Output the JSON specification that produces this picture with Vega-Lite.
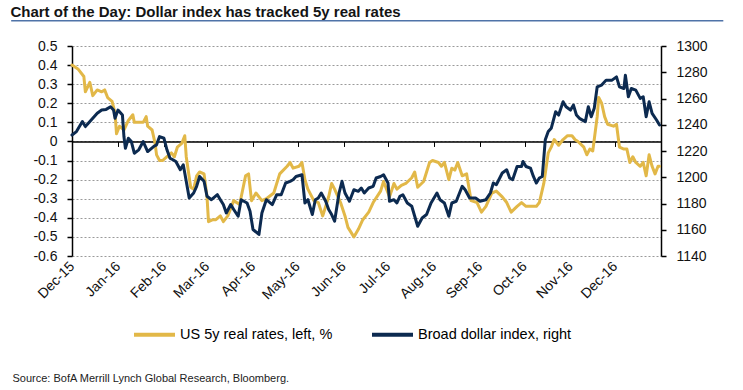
{
  "$schema": "https://vega.github.io/schema/vega-lite/v6.json",
  "width": 589,
  "height": 210,
  "autosize": {"type": "none"},
  "padding": {"left": 72, "top": 46, "right": 82, "bottom": 134},
  "background": "white",
  "config": {"view": {"stroke": null}, "font": "Liberation Sans"},
  "title": {
    "text": "Chart of the Day: Dollar index has tracked 5y real rates",
    "anchor": "start",
    "frame": "bounds",
    "font": "Liberation Sans",
    "fontSize": 15,
    "fontWeight": "bold",
    "color": "#141414",
    "baseline": "alphabetic",
    "offset": 4,
    "dy": 16
  },
  "datasets": {
    "rates": [
      {"date": "2015-12-01", "value": 0.40}, {"date": "2015-12-05", "value": 0.38}, {"date": "2015-12-09", "value": 0.34}, {"date": "2015-12-10", "value": 0.26},
      {"date": "2015-12-13", "value": 0.31}, {"date": "2015-12-15", "value": 0.24}, {"date": "2015-12-18", "value": 0.27}, {"date": "2015-12-21", "value": 0.26},
      {"date": "2015-12-23", "value": 0.27}, {"date": "2015-12-25", "value": 0.23}, {"date": "2015-12-28", "value": 0.21}, {"date": "2015-12-30", "value": 0.15},
      {"date": "2015-12-31", "value": 0.04}, {"date": "2016-01-02", "value": 0.08}, {"date": "2016-01-05", "value": 0.06}, {"date": "2016-01-08", "value": 0.11},
      {"date": "2016-01-11", "value": 0.14}, {"date": "2016-01-12", "value": 0.10}, {"date": "2016-01-16", "value": 0.10}, {"date": "2016-01-18", "value": 0.10},
      {"date": "2016-01-20", "value": 0.13}, {"date": "2016-01-21", "value": 0.08}, {"date": "2016-01-24", "value": 0.06}, {"date": "2016-01-26", "value": -0.01},
      {"date": "2016-01-27", "value": -0.07}, {"date": "2016-01-29", "value": -0.10}, {"date": "2016-01-31", "value": -0.10}, {"date": "2016-02-03", "value": -0.08},
      {"date": "2016-02-06", "value": -0.06}, {"date": "2016-02-08", "value": -0.08}, {"date": "2016-02-10", "value": -0.03}, {"date": "2016-02-13", "value": -0.01},
      {"date": "2016-02-15", "value": 0.03}, {"date": "2016-02-16", "value": -0.08}, {"date": "2016-02-19", "value": -0.24}, {"date": "2016-02-21", "value": -0.25},
      {"date": "2016-02-23", "value": -0.18}, {"date": "2016-02-25", "value": -0.16}, {"date": "2016-02-28", "value": -0.17}, {"date": "2016-03-01", "value": -0.29},
      {"date": "2016-03-02", "value": -0.42}, {"date": "2016-03-05", "value": -0.41}, {"date": "2016-03-07", "value": -0.41}, {"date": "2016-03-10", "value": -0.39},
      {"date": "2016-03-12", "value": -0.42}, {"date": "2016-03-15", "value": -0.39}, {"date": "2016-03-19", "value": -0.31}, {"date": "2016-03-23", "value": -0.33},
      {"date": "2016-03-27", "value": -0.18}, {"date": "2016-03-29", "value": -0.17}, {"date": "2016-03-31", "value": -0.31}, {"date": "2016-04-03", "value": -0.27},
      {"date": "2016-04-07", "value": -0.31}, {"date": "2016-04-10", "value": -0.30}, {"date": "2016-04-15", "value": -0.27}, {"date": "2016-04-19", "value": -0.17},
      {"date": "2016-04-24", "value": -0.13}, {"date": "2016-04-26", "value": -0.11}, {"date": "2016-04-28", "value": -0.14}, {"date": "2016-05-02", "value": -0.13},
      {"date": "2016-05-04", "value": -0.11}, {"date": "2016-05-06", "value": -0.20}, {"date": "2016-05-08", "value": -0.25}, {"date": "2016-05-12", "value": -0.31},
      {"date": "2016-05-15", "value": -0.32}, {"date": "2016-05-18", "value": -0.39}, {"date": "2016-05-22", "value": -0.29}, {"date": "2016-05-24", "value": -0.22},
      {"date": "2016-05-26", "value": -0.25}, {"date": "2016-05-30", "value": -0.32}, {"date": "2016-06-02", "value": -0.39}, {"date": "2016-06-04", "value": -0.45},
      {"date": "2016-06-08", "value": -0.50}, {"date": "2016-06-11", "value": -0.46}, {"date": "2016-06-14", "value": -0.41}, {"date": "2016-06-18", "value": -0.37},
      {"date": "2016-06-21", "value": -0.32}, {"date": "2016-06-26", "value": -0.26}, {"date": "2016-06-28", "value": -0.21}, {"date": "2016-06-30", "value": -0.25},
      {"date": "2016-07-02", "value": -0.29}, {"date": "2016-07-05", "value": -0.22}, {"date": "2016-07-07", "value": -0.25}, {"date": "2016-07-10", "value": -0.23},
      {"date": "2016-07-13", "value": -0.22}, {"date": "2016-07-17", "value": -0.19}, {"date": "2016-07-19", "value": -0.16}, {"date": "2016-07-21", "value": -0.24},
      {"date": "2016-07-25", "value": -0.21}, {"date": "2016-07-29", "value": -0.11}, {"date": "2016-07-31", "value": -0.10}, {"date": "2016-08-04", "value": -0.11},
      {"date": "2016-08-06", "value": -0.13}, {"date": "2016-08-08", "value": -0.11}, {"date": "2016-08-11", "value": -0.20}, {"date": "2016-08-13", "value": -0.14},
      {"date": "2016-08-15", "value": -0.15}, {"date": "2016-08-17", "value": -0.11}, {"date": "2016-08-20", "value": -0.18}, {"date": "2016-08-23", "value": -0.17},
      {"date": "2016-08-26", "value": -0.31}, {"date": "2016-08-30", "value": -0.32}, {"date": "2016-09-02", "value": -0.37}, {"date": "2016-09-05", "value": -0.34},
      {"date": "2016-09-09", "value": -0.27}, {"date": "2016-09-12", "value": -0.26}, {"date": "2016-09-16", "value": -0.29}, {"date": "2016-09-19", "value": -0.32},
      {"date": "2016-09-22", "value": -0.37}, {"date": "2016-09-26", "value": -0.34}, {"date": "2016-09-29", "value": -0.32}, {"date": "2016-10-02", "value": -0.34},
      {"date": "2016-10-06", "value": -0.34}, {"date": "2016-10-09", "value": -0.34}, {"date": "2016-10-11", "value": -0.32}, {"date": "2016-10-14", "value": -0.22},
      {"date": "2016-10-17", "value": -0.06}, {"date": "2016-10-19", "value": -0.03}, {"date": "2016-10-21", "value": 0.01}, {"date": "2016-10-24", "value": -0.02},
      {"date": "2016-10-27", "value": 0.01}, {"date": "2016-10-30", "value": 0.03}, {"date": "2016-11-02", "value": 0.03}, {"date": "2016-11-04", "value": 0.01},
      {"date": "2016-11-06", "value": 0.00}, {"date": "2016-11-10", "value": -0.03}, {"date": "2016-11-12", "value": -0.07}, {"date": "2016-11-14", "value": -0.04},
      {"date": "2016-11-16", "value": -0.05}, {"date": "2016-11-19", "value": 0.13}, {"date": "2016-11-20", "value": 0.23}, {"date": "2016-11-22", "value": 0.20},
      {"date": "2016-11-24", "value": 0.13}, {"date": "2016-11-26", "value": 0.09}, {"date": "2016-11-30", "value": 0.08}, {"date": "2016-12-02", "value": 0.09},
      {"date": "2016-12-04", "value": -0.03}, {"date": "2016-12-07", "value": -0.04}, {"date": "2016-12-09", "value": -0.04}, {"date": "2016-12-11", "value": -0.11},
      {"date": "2016-12-13", "value": -0.08}, {"date": "2016-12-15", "value": -0.11}, {"date": "2016-12-18", "value": -0.13}, {"date": "2016-12-20", "value": -0.11},
      {"date": "2016-12-22", "value": -0.18}, {"date": "2016-12-24", "value": -0.07}, {"date": "2016-12-26", "value": -0.13}, {"date": "2016-12-28", "value": -0.17},
      {"date": "2016-12-30", "value": -0.13}, {"date": "2016-12-31", "value": -0.13}
    ],
    "dollar": [
      {"date": "2015-12-01", "value": 1232.2}, {"date": "2015-12-04", "value": 1234.8}, {"date": "2015-12-08", "value": 1242.4}, {"date": "2015-12-10", "value": 1238.6},
      {"date": "2015-12-12", "value": 1241.1}, {"date": "2015-12-15", "value": 1244.9}, {"date": "2015-12-18", "value": 1248.7}, {"date": "2015-12-21", "value": 1251.2},
      {"date": "2015-12-24", "value": 1251.7}, {"date": "2015-12-27", "value": 1253.7}, {"date": "2015-12-29", "value": 1251.2}, {"date": "2015-12-30", "value": 1244.9},
      {"date": "2016-01-01", "value": 1251.2}, {"date": "2016-01-04", "value": 1247.4}, {"date": "2016-01-05", "value": 1231.0}, {"date": "2016-01-06", "value": 1222.1},
      {"date": "2016-01-08", "value": 1229.7}, {"date": "2016-01-10", "value": 1227.2}, {"date": "2016-01-12", "value": 1218.3}, {"date": "2016-01-15", "value": 1220.9},
      {"date": "2016-01-18", "value": 1227.2}, {"date": "2016-01-21", "value": 1219.6}, {"date": "2016-01-25", "value": 1223.4}, {"date": "2016-01-27", "value": 1224.7},
      {"date": "2016-01-29", "value": 1231.0}, {"date": "2016-02-01", "value": 1229.7}, {"date": "2016-02-03", "value": 1220.9}, {"date": "2016-02-05", "value": 1214.6},
      {"date": "2016-02-07", "value": 1213.3}, {"date": "2016-02-09", "value": 1212.0}, {"date": "2016-02-12", "value": 1205.7}, {"date": "2016-02-14", "value": 1209.5},
      {"date": "2016-02-16", "value": 1196.9}, {"date": "2016-02-18", "value": 1184.2}, {"date": "2016-02-21", "value": 1188.0}, {"date": "2016-02-23", "value": 1193.1},
      {"date": "2016-02-25", "value": 1200.6}, {"date": "2016-02-28", "value": 1196.9}, {"date": "2016-03-01", "value": 1185.5}, {"date": "2016-03-04", "value": 1182.9},
      {"date": "2016-03-08", "value": 1186.7}, {"date": "2016-03-10", "value": 1182.9}, {"date": "2016-03-12", "value": 1179.2}, {"date": "2016-03-14", "value": 1172.8},
      {"date": "2016-03-17", "value": 1179.2}, {"date": "2016-03-19", "value": 1175.4}, {"date": "2016-03-22", "value": 1170.3}, {"date": "2016-03-24", "value": 1182.9},
      {"date": "2016-03-28", "value": 1180.4}, {"date": "2016-03-30", "value": 1174.1}, {"date": "2016-04-01", "value": 1160.2}, {"date": "2016-04-05", "value": 1156.4},
      {"date": "2016-04-07", "value": 1172.8}, {"date": "2016-04-10", "value": 1182.9}, {"date": "2016-04-14", "value": 1179.2}, {"date": "2016-04-17", "value": 1186.7},
      {"date": "2016-04-20", "value": 1186.7}, {"date": "2016-04-23", "value": 1195.6}, {"date": "2016-04-26", "value": 1196.9}, {"date": "2016-04-28", "value": 1198.1},
      {"date": "2016-04-30", "value": 1200.6}, {"date": "2016-05-04", "value": 1201.9}, {"date": "2016-05-06", "value": 1180.4}, {"date": "2016-05-08", "value": 1182.9},
      {"date": "2016-05-11", "value": 1171.6}, {"date": "2016-05-13", "value": 1182.9}, {"date": "2016-05-15", "value": 1184.2}, {"date": "2016-05-17", "value": 1188.0},
      {"date": "2016-05-20", "value": 1181.7}, {"date": "2016-05-22", "value": 1175.4}, {"date": "2016-05-24", "value": 1171.6}, {"date": "2016-05-26", "value": 1166.5},
      {"date": "2016-05-29", "value": 1188.0}, {"date": "2016-05-31", "value": 1196.9}, {"date": "2016-06-02", "value": 1188.0}, {"date": "2016-06-05", "value": 1181.7},
      {"date": "2016-06-08", "value": 1190.5}, {"date": "2016-06-11", "value": 1189.3}, {"date": "2016-06-13", "value": 1191.8}, {"date": "2016-06-15", "value": 1188.0},
      {"date": "2016-06-18", "value": 1191.8}, {"date": "2016-06-21", "value": 1193.1}, {"date": "2016-06-23", "value": 1199.4}, {"date": "2016-06-26", "value": 1200.6},
      {"date": "2016-06-28", "value": 1201.9}, {"date": "2016-07-01", "value": 1195.6}, {"date": "2016-07-02", "value": 1181.7}, {"date": "2016-07-05", "value": 1182.9},
      {"date": "2016-07-07", "value": 1180.4}, {"date": "2016-07-09", "value": 1185.5}, {"date": "2016-07-11", "value": 1186.7}, {"date": "2016-07-14", "value": 1180.4},
      {"date": "2016-07-17", "value": 1177.9}, {"date": "2016-07-19", "value": 1170.3}, {"date": "2016-07-21", "value": 1162.7}, {"date": "2016-07-24", "value": 1169.0},
      {"date": "2016-07-27", "value": 1171.6}, {"date": "2016-07-30", "value": 1180.4}, {"date": "2016-08-03", "value": 1188.0}, {"date": "2016-08-05", "value": 1182.9},
      {"date": "2016-08-08", "value": 1180.4}, {"date": "2016-08-11", "value": 1170.3}, {"date": "2016-08-13", "value": 1180.4}, {"date": "2016-08-16", "value": 1181.7},
      {"date": "2016-08-20", "value": 1193.1}, {"date": "2016-08-22", "value": 1190.5}, {"date": "2016-08-25", "value": 1184.2}, {"date": "2016-08-29", "value": 1184.2},
      {"date": "2016-09-01", "value": 1181.7}, {"date": "2016-09-05", "value": 1182.9}, {"date": "2016-09-08", "value": 1188.0}, {"date": "2016-09-10", "value": 1195.6},
      {"date": "2016-09-12", "value": 1194.3}, {"date": "2016-09-16", "value": 1203.2}, {"date": "2016-09-19", "value": 1205.7}, {"date": "2016-09-21", "value": 1199.4},
      {"date": "2016-09-23", "value": 1198.1}, {"date": "2016-09-26", "value": 1208.2}, {"date": "2016-09-29", "value": 1208.2}, {"date": "2016-09-30", "value": 1212.0},
      {"date": "2016-10-02", "value": 1208.2}, {"date": "2016-10-05", "value": 1207.0}, {"date": "2016-10-07", "value": 1200.6}, {"date": "2016-10-09", "value": 1195.6},
      {"date": "2016-10-11", "value": 1199.4}, {"date": "2016-10-13", "value": 1200.6}, {"date": "2016-10-15", "value": 1228.5}, {"date": "2016-10-17", "value": 1234.8},
      {"date": "2016-10-19", "value": 1237.3}, {"date": "2016-10-22", "value": 1249.9}, {"date": "2016-10-24", "value": 1247.4}, {"date": "2016-10-27", "value": 1257.5},
      {"date": "2016-10-29", "value": 1253.7}, {"date": "2016-11-01", "value": 1251.2}, {"date": "2016-11-03", "value": 1255.0}, {"date": "2016-11-05", "value": 1247.4},
      {"date": "2016-11-07", "value": 1244.9}, {"date": "2016-11-11", "value": 1242.4}, {"date": "2016-11-13", "value": 1253.7}, {"date": "2016-11-15", "value": 1246.1},
      {"date": "2016-11-17", "value": 1252.5}, {"date": "2016-11-19", "value": 1268.9}, {"date": "2016-11-22", "value": 1270.2}, {"date": "2016-11-25", "value": 1274.0},
      {"date": "2016-11-29", "value": 1274.0}, {"date": "2016-12-02", "value": 1276.5}, {"date": "2016-12-04", "value": 1268.9}, {"date": "2016-12-07", "value": 1267.6},
      {"date": "2016-12-08", "value": 1277.8}, {"date": "2016-12-10", "value": 1261.3}, {"date": "2016-12-12", "value": 1267.6}, {"date": "2016-12-15", "value": 1266.4},
      {"date": "2016-12-18", "value": 1260.1}, {"date": "2016-12-20", "value": 1261.3}, {"date": "2016-12-22", "value": 1246.1}, {"date": "2016-12-24", "value": 1257.5},
      {"date": "2016-12-26", "value": 1248.7}, {"date": "2016-12-29", "value": 1243.6}, {"date": "2016-12-31", "value": 1239.8}
    ]
  },
  "layer": [
    {
      "data": {"name": "rates"},
      "mark": {"type": "line", "strokeWidth": 3, "strokeJoin": "round", "strokeCap": "round"},
      "encoding": {
        "x": {
          "field": "date", "type": "temporal",
          "scale": {"type": "utc", "domain": [{"year": 2015, "month": 12, "date": 1, "utc": true}, {"year": 2017, "month": 1, "date": 1, "utc": true}]},
          "axis": {
            "orient": "bottom",
            "values": [
              {"year": 2015, "month": 12, "date": 1, "utc": true}, {"year": 2016, "month": 1, "date": 1, "utc": true},
              {"year": 2016, "month": 2, "date": 1, "utc": true}, {"year": 2016, "month": 3, "date": 1, "utc": true},
              {"year": 2016, "month": 4, "date": 1, "utc": true}, {"year": 2016, "month": 5, "date": 1, "utc": true},
              {"year": 2016, "month": 6, "date": 1, "utc": true}, {"year": 2016, "month": 7, "date": 1, "utc": true},
              {"year": 2016, "month": 8, "date": 1, "utc": true}, {"year": 2016, "month": 9, "date": 1, "utc": true},
              {"year": 2016, "month": 10, "date": 1, "utc": true}, {"year": 2016, "month": 11, "date": 1, "utc": true},
              {"year": 2016, "month": 12, "date": 1, "utc": true}
            ],
            "format": "%b-%y",
            "labelAngle": -45,
            "labelAlign": "right",
            "labelBaseline": "middle",
            "labelPadding": 8,
            "labelFont": "Liberation Sans",
            "labelFontSize": 14,
            "labelColor": "#111111",
            "labelOverlap": false,
            "labelBound": false,
            "labelFlush": false,
            "domain": false,
            "ticks": false,
            "grid": false,
            "title": "Source: BofA Merrill Lynch Global Research, Bloomberg.",
            "titleFont": "Liberation Sans",
            "titleFontSize": 11,
            "titleFontWeight": "normal",
            "titleColor": "#222222",
            "titleAlign": "left",
            "titleAnchor": "start",
            "titleBaseline": "middle",
            "titleX": -60,
            "titleY": 122
          }
        },
        "y": {
          "field": "value", "type": "quantitative",
          "scale": {"domain": [-0.6, 0.5], "nice": false, "zero": false},
          "axis": {
            "orient": "left",
            "values": [-0.6, -0.5, -0.4, -0.3, -0.2, -0.1, 0, 0.1, 0.2, 0.3, 0.4, 0.5],
            "labelExpr": "toString(round(datum.value * 10) / 10)",
            "labelOverlap": false,
            "labelFont": "Liberation Sans",
            "labelFontSize": 14,
            "labelColor": "#111111",
            "labelPadding": 10,
            "domainColor": "#000000",
            "domainWidth": 1.5,
            "tickColor": "#000000",
            "tickWidth": 1.5,
            "tickSize": 5,
            "grid": true,
            "gridColor": "#9a9a9a",
            "gridDash": [2, 2],
            "gridWidth": 1,
            "title": null
          }
        },
        "color": {
          "datum": "US 5y real rates, left, %",
          "scale": {"domain": ["US 5y real rates, left, %", "Broad dollar index, right"], "range": ["#E2B848", "#0C2A50"]},
          "legend": {
            "orient": "none",
            "legendX": 60,
            "legendY": 266,
            "direction": "horizontal",
            "columns": 2,
            "title": null,
            "padding": 0,
            "symbolType": "stroke",
            "symbolSize": 1681,
            "symbolStrokeWidth": 4,
            "labelFont": "Liberation Sans",
            "labelFontSize": 14.5,
            "labelColor": "#000000",
            "labelOffset": 3,
            "labelLimit": 400,
            "columnPadding": 31
          }
        }
      }
    },
    {
      "data": {"name": "dollar"},
      "mark": {"type": "line", "strokeWidth": 3, "strokeJoin": "round", "strokeCap": "round"},
      "encoding": {
        "x": {
          "field": "date", "type": "temporal",
          "axis": {
            "orient": "bottom",
            "offset": -114.55,
            "values": [
              {"year": 2015, "month": 12, "date": 1, "utc": true}, {"year": 2016, "month": 1, "date": 1, "utc": true},
              {"year": 2016, "month": 2, "date": 1, "utc": true}, {"year": 2016, "month": 3, "date": 1, "utc": true},
              {"year": 2016, "month": 4, "date": 1, "utc": true}, {"year": 2016, "month": 5, "date": 1, "utc": true},
              {"year": 2016, "month": 6, "date": 1, "utc": true}, {"year": 2016, "month": 7, "date": 1, "utc": true},
              {"year": 2016, "month": 8, "date": 1, "utc": true}, {"year": 2016, "month": 9, "date": 1, "utc": true},
              {"year": 2016, "month": 10, "date": 1, "utc": true}, {"year": 2016, "month": 11, "date": 1, "utc": true},
              {"year": 2016, "month": 12, "date": 1, "utc": true}
            ],
            "labels": false,
            "domain": true,
            "domainColor": "#000000",
            "domainWidth": 1.5,
            "ticks": true,
            "tickColor": "#000000",
            "tickWidth": 1,
            "tickSize": 5,
            "grid": false,
            "title": null
          }
        },
        "y": {
          "field": "value", "type": "quantitative",
          "scale": {"domain": [1140, 1300], "nice": false, "zero": false},
          "axis": {
            "orient": "right",
            "values": [1140, 1160, 1180, 1200, 1220, 1240, 1260, 1280, 1300],
            "format": "d",
            "labelOverlap": false,
            "labelFont": "Liberation Sans",
            "labelFontSize": 14,
            "labelColor": "#111111",
            "labelPadding": 10,
            "domainColor": "#000000",
            "domainWidth": 1.5,
            "tickColor": "#000000",
            "tickWidth": 1.5,
            "tickSize": 5,
            "grid": false,
            "title": null
          }
        },
        "color": {"datum": "Broad dollar index, right"}
      }
    },
    {
      "data": {"values": [{}]},
      "mark": {"type": "rule", "color": "#4F73A8", "strokeWidth": 1.5},
      "encoding": {
        "x": {"datum": {"year": 2015, "month": 10, "date": 21, "utc": true}, "type": "temporal", "axis": null},
        "x2": {"datum": {"year": 2017, "month": 2, "date": 12, "utc": true}},
        "y": {"datum": 0.6325, "type": "quantitative", "scale": {"domain": [-0.6, 0.5], "nice": false, "zero": false}, "axis": null}
      }
    }
  ],
  "resolve": {"scale": {"y": "independent"}, "axis": {"x": "independent", "y": "independent"}}
}
